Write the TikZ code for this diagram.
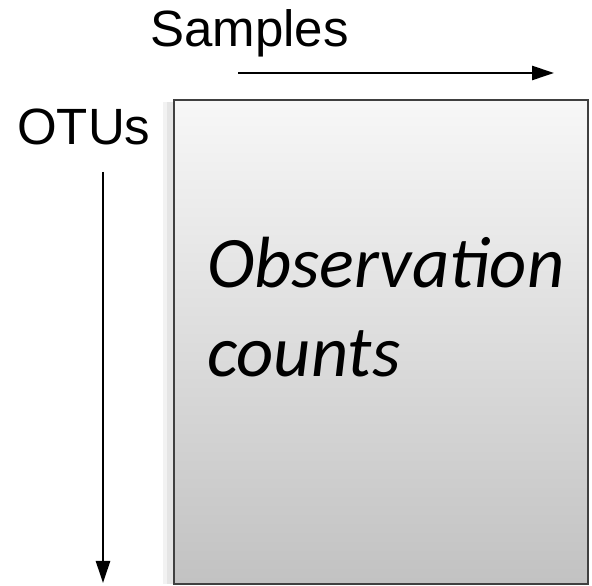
\documentclass[tikz,border=0pt]{standalone}
\usepackage{fontspec}
\setmainfont{Liberation Sans}
\newfontfamily\calfont{Carlito}
\usetikzlibrary{arrows.meta}
\begin{document}
\begin{tikzpicture}[x=1pt,y=1pt,
  lbl/.style={inner sep=0pt, anchor=base west, font=\fontsize{51}{60}\selectfont},
  axisarrow/.style={line width=2.6pt, -{Triangle[length=22pt,width=14pt]}},
  boxtext/.style={inner sep=0pt, anchor=base west, align=left, font=\calfont\itshape\fontsize{72.5}{89}\selectfont}
]
\useasboundingbox (0,0) rectangle (592,586);
% shadow
\fill[black!10] (167,2) rectangle (175,484);
\fill[black!5] (163,2) rectangle (167,484);
% box
\shade[top color=white!97!black, bottom color=black!24] (174,2) rectangle (588,486);
\draw[line width=2.5pt, black!75] (174,2) rectangle (588,486);
\node[boxtext] (obs) at (207,209) {Observation\\counts};
% labels
\node[lbl] (samples) at (150,539) {Samples};
\node[lbl] (otus) at (17,441) {OTUs};
\coordinate (sA) at (238,513);
\coordinate (sB) at (554,513);
\coordinate (oA) at (103,414);
\coordinate (oB) at (103,3);
\draw[axisarrow] (sA) -- (sB);
\draw[axisarrow] (oA) -- (oB);
\end{tikzpicture}
\end{document}
